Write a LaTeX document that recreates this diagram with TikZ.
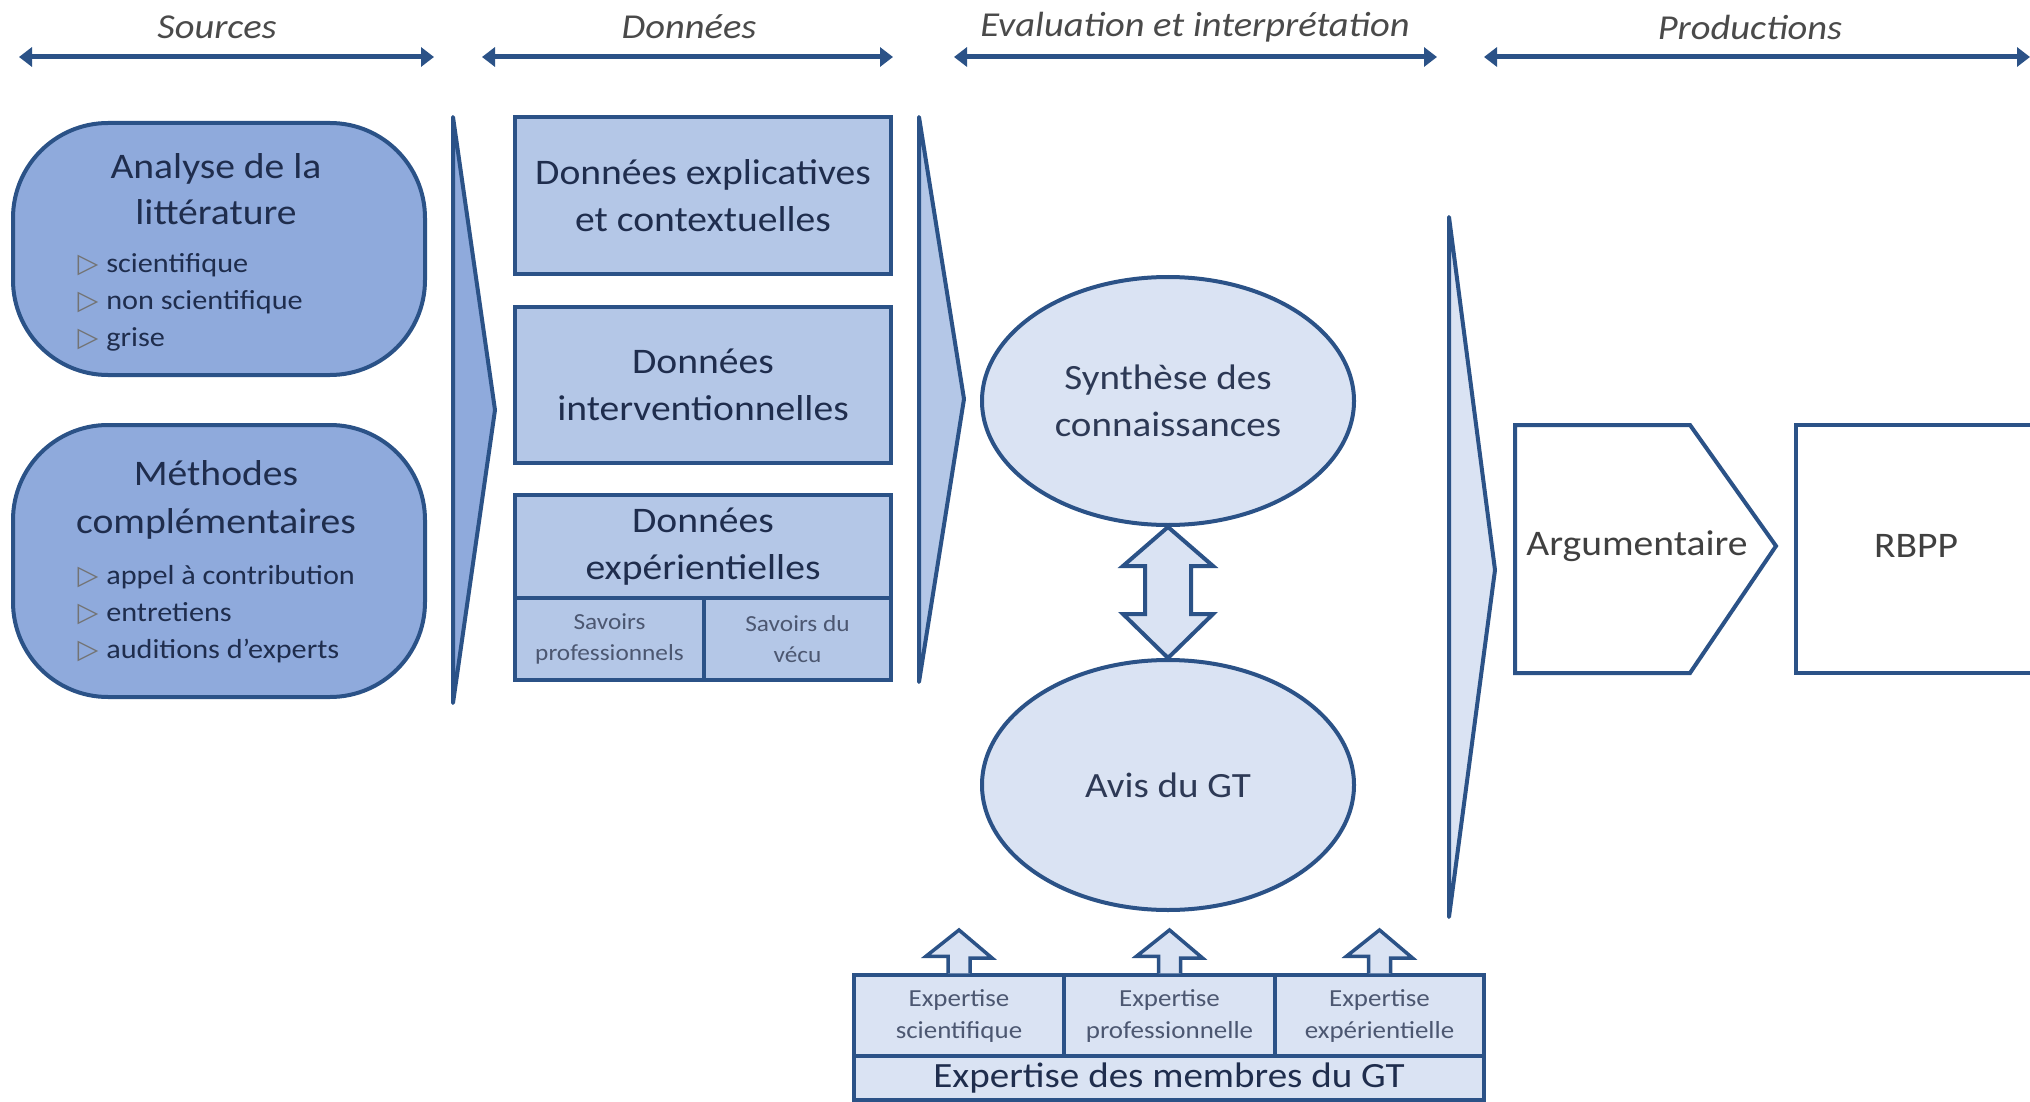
\documentclass[tikz,border=0pt]{standalone}
\usepackage{fontspec}
\setmainfont{Carlito}[FakeStretch=1.1]
\newfontfamily\dejavu{DejaVu Sans}
\usetikzlibrary{shapes.geometric,arrows.meta}
\definecolor{bord}{HTML}{2B5287}
\definecolor{fillA}{HTML}{8FAADC}
\definecolor{fillB}{HTML}{B4C7E7}
\definecolor{fillC}{HTML}{DAE3F3}
\definecolor{txt}{HTML}{1F2D4D}
\definecolor{hdr}{HTML}{4A4A4A}
\definecolor{gtxt}{HTML}{404040}
\newcommand{\tri}{{\dejavu\fontsize{27}{27}\selectfont\color{gray!90!black}▷}\hspace{8pt}}
\begin{document}
\begin{tikzpicture}[x=1pt,y=-1pt,
  hdrtext/.style={font=\fontsize{35}{40}\selectfont\itshape, text=hdr},
  hdrarrow/.style={draw=bord, line width=5pt, {Triangle[length=13pt,width=19pt]}-{Triangle[length=13pt,width=19pt]}},
  srcbox/.style={draw=bord, line width=4pt, fill=fillA, rounded corners=95pt, inner sep=0pt},
  databox/.style={draw=bord, line width=4pt, fill=fillB, inner sep=0pt, align=center, text=txt, font=\fontsize{36}{47}\selectfont},
  subbox/.style={draw=bord, line width=4pt, fill=fillB, inner sep=0pt, align=center, text=txt!80!white, font=\fontsize{23}{31}\selectfont},
  chev/.style={draw=bord, line width=4pt, line join=round},
  ell/.style={draw=bord, line width=4pt, fill=fillC, ellipse, inner sep=0pt, align=center, text=txt!85!gray, font=\fontsize{35.5}{47}\selectfont},
  expbox/.style={draw=bord, line width=3.5pt, fill=fillC, inner sep=0pt, align=center, text=txt!80!white, font=\fontsize{24.5}{32}\selectfont},
  prodbox/.style={draw=bord, line width=4pt, fill=white},
  bigarrow/.style={draw=bord, line width=4pt, fill=fillC, line join=miter}
]
\useasboundingbox (0,0) rectangle (2030,1102);
\fill[white] (0,0) rectangle (2030,1102);

% header
\node[hdrtext] (hS) at (217,27) {Sources};
\node[hdrtext] (hD) at (689,27) {Données};
\node[hdrtext] (hE) at (1195,27) {Evaluation et interprétation};
\node[hdrtext] (hP) at (1750,27) {Productions};
\coordinate (aS1) at (19,57); \coordinate (aS2) at (434,57);
\coordinate (aD1) at (482,57); \coordinate (aD2) at (893,57);
\coordinate (aE1) at (954,57); \coordinate (aE2) at (1437,57);
\coordinate (aP1) at (1484,57); \coordinate (aP2) at (2030,57);
\draw[hdrarrow] (aS1) -- (aS2);
\draw[hdrarrow] (aD1) -- (aD2);
\draw[hdrarrow] (aE1) -- (aE2);
\draw[hdrarrow] (aP1) -- (aP2);

% sources
\node[srcbox, minimum width=412pt, minimum height=252pt] (src1) at (219,249) {};
\node[align=center, text=txt, font=\fontsize{36}{46}\selectfont] (src1t) at (216,189) {Analyse de la\\littérature};
\node[anchor=west, align=left, text=txt, font=\fontsize{27.5}{37}\selectfont] (src1b) at (74,302) {\tri scientifique\\\tri non scientifique\\\tri grise};
\node[srcbox, minimum width=412pt, minimum height=272pt] (src2) at (219,561) {};
\node[align=center, text=txt, font=\fontsize{36}{48}\selectfont] (src2t) at (216,500) {Méthodes\\complémentaires};
\node[anchor=west, align=left, text=txt, font=\fontsize{27.5}{37}\selectfont] (src2b) at (74,614) {\tri appel à contribution\\\tri entretiens\\\tri auditions d'experts};

% chevron 1
\draw[chev, fill=fillA] (453,117) -- (495,410) -- (453,703) -- cycle;

% donnees
\node[databox, minimum width=376pt, minimum height=157pt] (d1) at (703,195.5) {Données explicatives\\et contextuelles};
\node[databox, minimum width=376pt, minimum height=156pt] (d2) at (703,385) {Données\\interventionnelles};
\node[databox, minimum width=376pt, minimum height=103pt] (d3) at (703,546.5) {Données\\expérientielles};
\node[subbox, minimum width=189pt, minimum height=82pt] (d3a) at (609.5,639) {Savoirs\\professionnels};
\node[subbox, minimum width=187pt, minimum height=82pt] (d3b) at (797.5,639) {Savoirs du\\vécu};

% chevron 2
\draw[chev, fill=fillB] (919,117) -- (964,399) -- (919,682) -- cycle;

% ellipses
\node[ell, minimum width=372pt, minimum height=248pt] (syn) at (1168,401) {Synthèse des\\connaissances};
\node[ell, minimum width=372pt, minimum height=250pt] (avis) at (1168,785) {Avis du GT};

% double arrow
\draw[bigarrow] (syn.south) -- (1213,566) -- (1191,566) -- (1191,614) -- (1213,614) -- (avis.north)
  -- (1123,614) -- (1145,614) -- (1145,566) -- (1123,566) -- cycle;

% expertise
\node[expbox, minimum width=210pt, minimum height=81pt] (e1) at (959,1015.5) {Expertise\\scientifique};
\node[expbox, minimum width=211pt, minimum height=81pt] (e2) at (1169.5,1015.5) {Expertise\\professionnelle};
\node[expbox, minimum width=209pt, minimum height=81pt] (e3) at (1379.5,1015.5) {Expertise\\expérientielle};
\node[expbox, minimum width=630pt, minimum height=44pt, text=txt, font=\fontsize{35.5}{40}\selectfont] (ebar) at (1169,1078) {Expertise des membres du GT};

\foreach \cx/\nm in {959/e1,1169.5/e2,1379.5/e3}{
  \draw[bigarrow, line width=3.5pt] (\nm.north) ++(-11,0) -- ++(0,-17) -- ++(-22,0) -- (\cx,930) -- (\cx+33,958) -- (\cx+11,958) -- (\nm.north -| {\cx+11,0});
}

% chevron 3
\draw[chev, fill=fillC] (1449,217) -- (1495,570) -- (1449,917) -- cycle;

% productions
\draw[prodbox] (1515,425) -- (1690,425) -- (1776,546) -- (1690,673) -- (1515,673) -- cycle;
\node[text=gtxt, font=\fontsize{36}{40}\selectfont] (arg) at (1637,546) {Argumentaire};
\draw[prodbox] (2045,425) -- (1796,425) -- (1796,673) -- (2045,673);
\node[text=gtxt, font=\fontsize{36}{40}\selectfont] (rbpp) at (1916,546) {RBPP};
\end{tikzpicture}
\end{document}
